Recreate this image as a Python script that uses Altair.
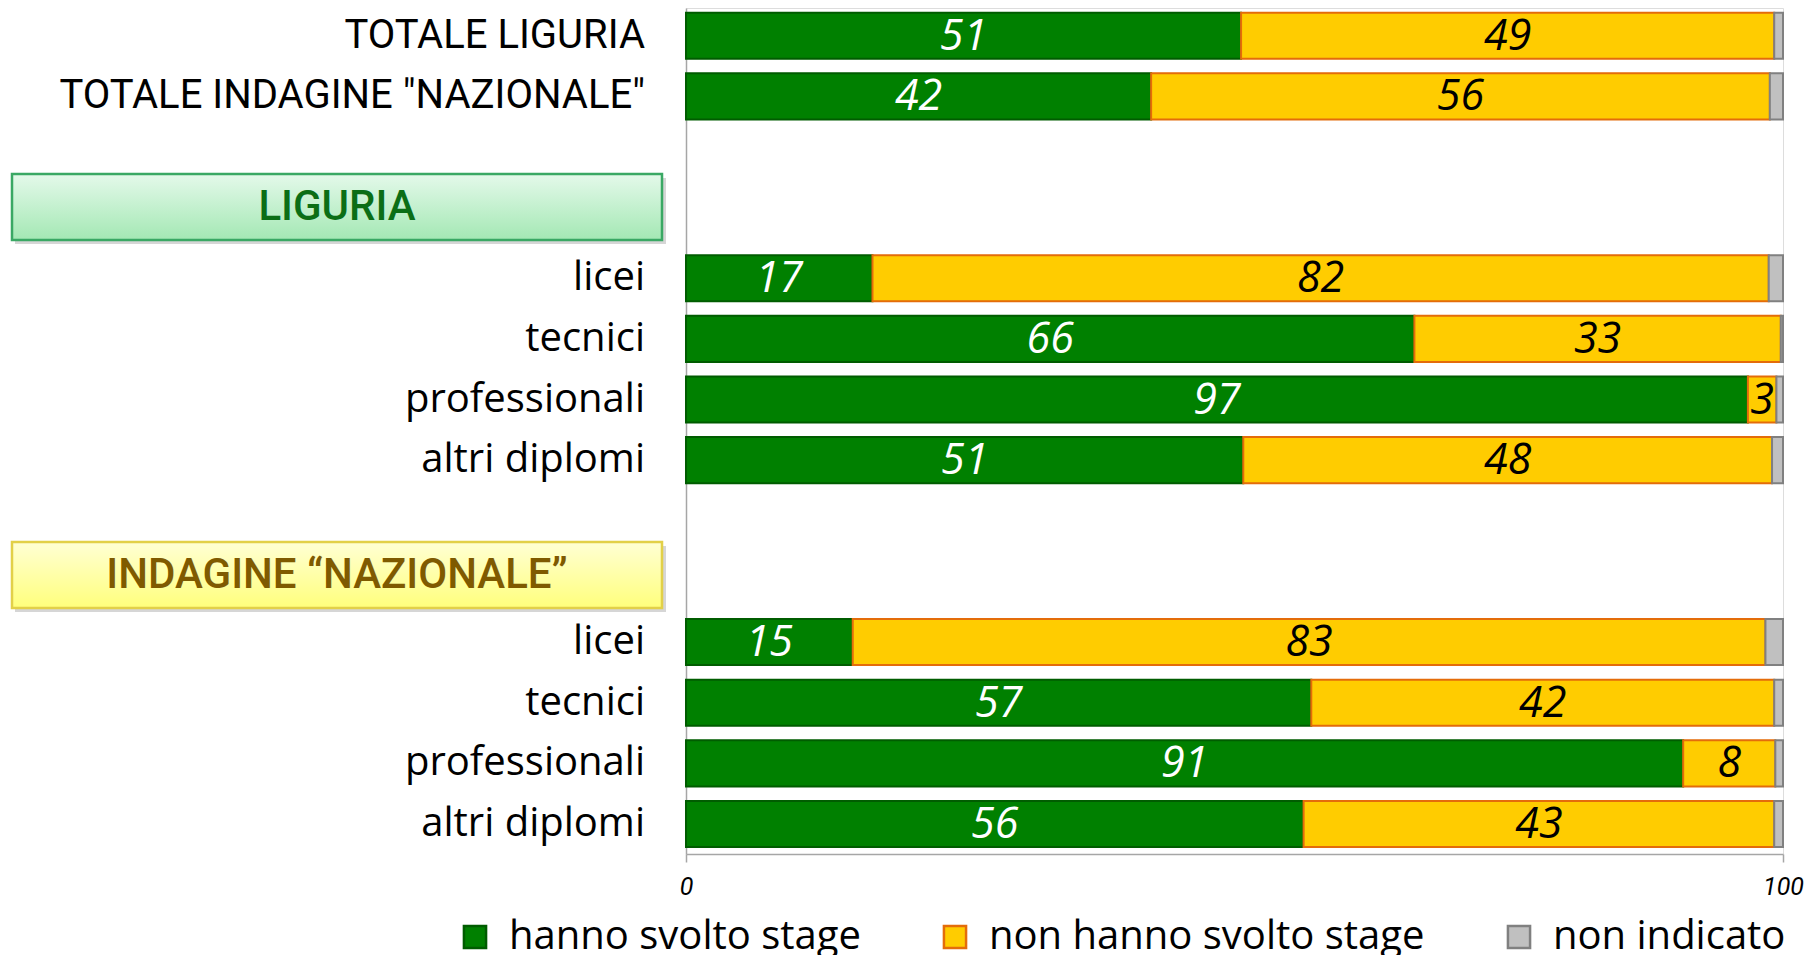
import altair as alt
import pandas as pd

# ---------------- data ----------------
row_order = ["tot_lig", "tot_naz", "gap_a", "hdr_lig",
             "lig_licei", "lig_tecnici", "lig_prof", "lig_altri",
             "gap_b", "hdr_naz",
             "naz_licei", "naz_tecnici", "naz_prof", "naz_altri"]

bar_rows = ["tot_lig", "tot_naz",
            "lig_licei", "lig_tecnici", "lig_prof", "lig_altri",
            "naz_licei", "naz_tecnici", "naz_prof", "naz_altri"]
bar_names = ["TOTALE LIGURIA", 'TOTALE INDAGINE "NAZIONALE"',
             "licei", "tecnici", "professionali", "altri diplomi",
             "licei", "tecnici", "professionali", "altri diplomi"]
bar_kind = ["totale", "totale",
            "scuola", "scuola", "scuola", "scuola",
            "scuola", "scuola", "scuola", "scuola"]

svolto = [50.6, 42.4, 17.0, 66.4, 96.8, 50.8, 15.2, 57.0, 90.9, 56.3]
non_svolto = [48.6, 56.4, 81.7, 33.4, 2.6, 48.2, 83.2, 42.2, 8.4, 42.9]
non_indicato = [0.8, 1.2, 1.3, 0.2, 0.6, 1.0, 1.6, 0.8, 0.7, 0.8]

categories = ["hanno svolto stage", "non hanno svolto stage", "non indicato"]
fill_colors = ["#008000", "#FFCC00", "#C0C0C0"]
stroke_colors = ["#005C00", "#E46C0A", "#808080"]

header_rows = ["hdr_lig", "hdr_naz"]
header_texts = ["LIGURIA", "INDAGINE \u201cNAZIONALE\u201d"]

# ---------------- tables ----------------
recs = []
for i, key in enumerate(bar_rows):
    start = 0.0
    for cat, val in zip(categories, [svolto[i], non_svolto[i], non_indicato[i]]):
        recs.append({"key": key, "cat": cat, "value": val,
                     "x0": start, "x1": start + val, "mid": start + val / 2})
        start += val
bars_df = pd.DataFrame(recs)

labels_df = pd.DataFrame({"key": bar_rows, "name": bar_names, "kind": bar_kind})
hdr_lig_df = pd.DataFrame({"key": [header_rows[0]], "text": [header_texts[0]]})
hdr_naz_df = pd.DataFrame({"key": [header_rows[1]], "text": [header_texts[1]]})

NARROW = "Roboto, sans-serif"
SANS = "Open Sans, Noto Sans, sans-serif"

y_enc = alt.Y("key:N",
              scale=alt.Scale(domain=row_order, paddingInner=0.24,
                              paddingOuter=0.096, align=0.4),
              axis=alt.Axis(labels=False, ticks=False, title=None, grid=False,
                            domain=True, domainColor="#A6A6A6", domainWidth=1.5))

x_scale = alt.Scale(domain=[0, 100], nice=False, zero=True)
x_axis = alt.Axis(values=[0, 100], title=None, grid=False,
                  domainColor="#A6A6A6", domainWidth=1.5,
                  tickColor="#A6A6A6", tickSize=8, tickWidth=1.5,
                  labelFont=NARROW, labelFontStyle="italic", labelFontSize=25,
                  labelColor="black", labelPadding=12, labelFlush=False)

legend = alt.Legend(orient="none", legendX=-231, legendY=909,
                    direction="horizontal", title=None,
                    symbolType="square", symbolSize=490, symbolStrokeWidth=2.5,
                    labelFont=SANS, labelFontSize=40, labelColor="black",
                    labelOffset=14, columnPadding=74, labelLimit=1000,
                    padding=0)

bars = alt.Chart(bars_df).mark_bar(strokeWidth=2).encode(
    x=alt.X("x0:Q", scale=x_scale, axis=x_axis),
    x2="x1:Q",
    y=y_enc,
    fill=alt.Fill("cat:N", scale=alt.Scale(domain=categories, range=fill_colors),
                  legend=legend),
    stroke=alt.Stroke("cat:N", scale=alt.Scale(domain=categories, range=stroke_colors),
                      legend=legend),
)

values = alt.Chart(bars_df).transform_filter(
    alt.datum.cat != "non indicato"
).mark_text(font=SANS, fontSize=43, fontStyle="italic",
            align="center", baseline="middle", dy=1).encode(
    x=alt.X("mid:Q", scale=x_scale),
    y=y_enc,
    text=alt.Text("value:Q", format=".0f"),
    color=alt.condition(alt.datum.cat == "hanno svolto stage",
                        alt.value("white"), alt.value("black")),
)

tot_labels = alt.Chart(labels_df).transform_filter(
    alt.datum.kind == "totale"
).mark_text(font=NARROW, fontSize=40, align="right", baseline="middle",
            color="black").encode(
    x=alt.value(-41), y=y_enc, text="name:N")

school_labels = alt.Chart(labels_df).transform_filter(
    alt.datum.kind == "scuola"
).mark_text(font=SANS, fontSize=40, align="right", baseline="middle",
            color="black").encode(
    x=alt.value(-41), y=y_enc, text="name:N")

green_grad = alt.LinearGradient(
    gradient="linear", x1=0, x2=0, y1=0, y2=1,
    stops=[alt.GradientStop(color="#E4F9EA", offset=0),
           alt.GradientStop(color="#A4E8B4", offset=1)])
yellow_grad = alt.LinearGradient(
    gradient="linear", x1=0, x2=0, y1=0, y2=1,
    stops=[alt.GradientStop(color="#FFFFD4", offset=0),
           alt.GradientStop(color="#FFFF7C", offset=1)])


def header(df, grad, border, text_color, yoff):
    shadow = alt.Chart(df).mark_bar(size=66, fill="#000000", opacity=0.16,
                                    yOffset=yoff + 4).encode(
        x=alt.value(-671), x2=alt.value(-20), y=y_enc)
    box = alt.Chart(df).mark_bar(size=66, fill=grad, stroke=border,
                                 strokeWidth=2.5, yOffset=yoff).encode(
        x=alt.value(-674), x2=alt.value(-24), y=y_enc)
    txt = alt.Chart(df).mark_text(font=NARROW, fontSize=42, fontWeight=500,
                                  color=text_color, align="center",
                                  baseline="middle", yOffset=yoff).encode(
        x=alt.value(-349), y=y_enc, text="text:N")
    return [shadow, box, txt]


layers = (header(hdr_lig_df, green_grad, "#3AA864", "#0B6E16", -10.6)
          + header(hdr_naz_df, yellow_grad, "#E2D048", "#7F5A00", -6.5)
          + [tot_labels, school_labels, bars, values])

chart = alt.layer(*layers).properties(
    width=1097, height=846,
    autosize=alt.AutoSizeParams(type="none"),
    padding={"left": 678, "top": 0, "right": 21, "bottom": 118},
).configure_view(stroke=None).configure(background="white")

chart.save("out.html", embed_options={"renderer": "svg", "actions": False})
